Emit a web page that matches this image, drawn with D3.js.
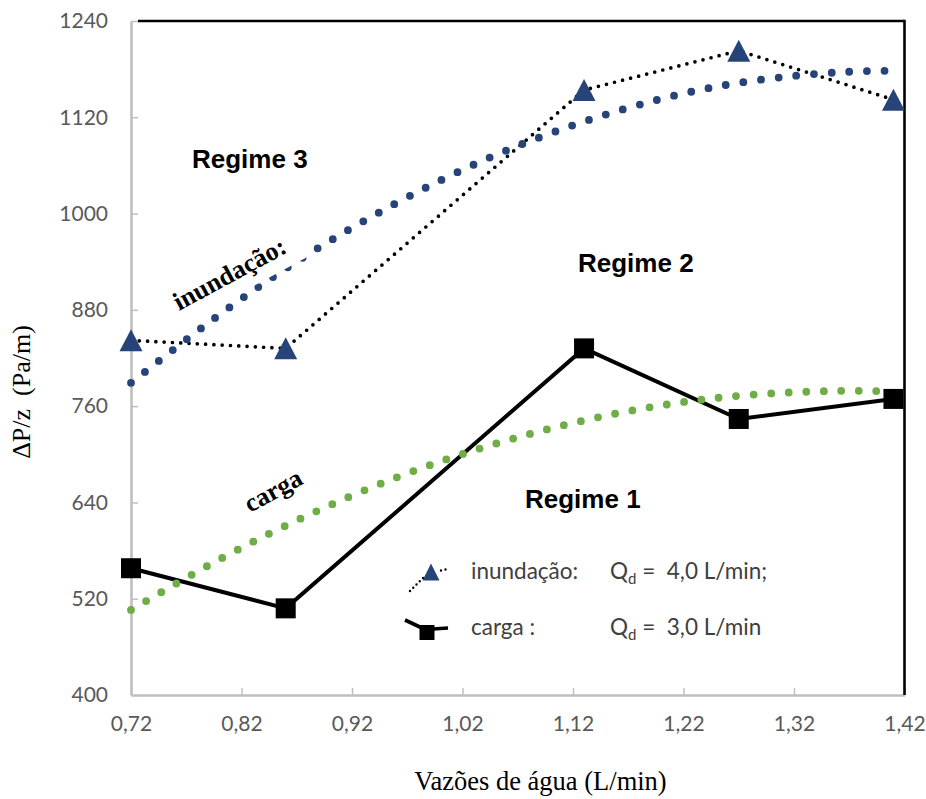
<!DOCTYPE html>
<html>
<head>
<meta charset="utf-8">
<script src="https://cdn.jsdelivr.net/npm/d3@7"></script>
<style>
  body { margin: 0; background: #fff; }
  text { white-space: pre; }
</style>
</head>
<body>
<svg id="chart" width="926" height="799"></svg>
<script>
// Measured pressure drop per unit height vs. water flow rate
const flowRates   = [0.72, 0.86, 1.13, 1.27, 1.41];
const floodingDP  = [842, 832, 1154, 1203, 1142];   // inundação, Qd = 4,0 L/min
const loadingDP   = [558, 508, 832, 744, 769];      // carga, Qd = 3,0 L/min

// Trend curves sampled along the flow axis
const trendFlow     = [0.72, 0.80, 0.88, 0.96, 1.04, 1.12, 1.20, 1.28, 1.36, 1.41];
const floodingTrend = [789, 874, 949, 1013, 1067, 1110, 1143, 1165, 1176, 1178];
const loadingTrend  = [506, 569, 624, 671, 709, 739, 761, 774, 779, 778];

const xTicks = [0.72, 0.82, 0.92, 1.02, 1.12, 1.22, 1.32, 1.42];
const yTicks = [400, 520, 640, 760, 880, 1000, 1120, 1240];

const blue = "#264478", green = "#70ad47";
const svg = d3.select("#chart");

const x = d3.scaleLinear().domain([0.72, 1.42]).range([131, 904.5]);
const y = d3.scaleLinear().domain([400, 1240]).range([695, 21]);

// Axes (grey, inward ticks)
const tickFont = "Lato, 'Open Sans', sans-serif";
const yAxis = svg.append("g").attr("transform", "translate(131,0)")
  .call(d3.axisLeft(y).tickValues(yTicks).tickSizeInner(-7).tickSizeOuter(0)
        .tickPadding(23).tickFormat(d3.format("d")));
const xAxis = svg.append("g").attr("transform", "translate(0,695)")
  .call(d3.axisBottom(x).tickValues(xTicks).tickSizeInner(-7).tickSizeOuter(0)
        .tickPadding(21).tickFormat(d => d.toFixed(2).replace(".", ",")));
[yAxis, xAxis].forEach(g => {
  g.select(".domain").attr("stroke", "#bfbfbf").attr("stroke-width", 2.6);
  g.selectAll(".tick line").attr("stroke", "#bfbfbf").attr("stroke-width", 1.5);
  g.selectAll(".tick text").attr("fill", "#595959")
    .style("font-family", tickFont).style("font-size", "21px");
});

// Black frame on top and right
svg.append("line").attr("x1", 138).attr("x2", x(1.42)).attr("y1", y(1240)).attr("y2", y(1240))
  .attr("stroke", "#000").attr("stroke-width", 2.5);
svg.append("line").attr("x1", x(1.42)).attr("x2", x(1.42)).attr("y1", y(1240) - 1.2).attr("y2", y(400))
  .attr("stroke", "#000").attr("stroke-width", 2.6);

// Series lines
const line = d3.line().x(d => x(d[0])).y(d => y(d[1]));
const flooding = flowRates.map((f, i) => [f, floodingDP[i]]);
const loading  = flowRates.map((f, i) => [f, loadingDP[i]]);

svg.append("path").attr("d", line(flooding)).attr("fill", "none")
  .attr("stroke", "#000").attr("stroke-width", 3.7)
  .attr("stroke-linecap", "round").attr("stroke-dasharray", "0 8.3");
svg.append("path").attr("d", line(loading)).attr("fill", "none")
  .attr("stroke", "#000").attr("stroke-width", 4);

// Markers
svg.selectAll(".tri").data(flooding).join("path").attr("class", "tri")
  .attr("transform", d => `translate(${x(d[0])},${y(d[1])})`)
  .attr("d", "M0,-11L11.5,11L-11.5,11Z").attr("fill", blue);
svg.selectAll(".sq").data(loading).join("rect").attr("class", "sq")
  .attr("x", d => x(d[0]) - 10).attr("y", d => y(d[1]) - 10)
  .attr("width", 20).attr("height", 20).attr("fill", "#000");

// Trend curves (round dots)
const trend = d3.line().curve(d3.curveNatural).x(d => x(d[0])).y(d => y(d[1]));
svg.append("path").attr("d", trend(trendFlow.map((f, i) => [f, floodingTrend[i]])))
  .attr("fill", "none").attr("stroke", blue).attr("stroke-width", 7.8)
  .attr("stroke-linecap", "round").attr("stroke-dasharray", "0 17.7");
svg.append("path").attr("d", trend(trendFlow.map((f, i) => [f, loadingTrend[i]])))
  .attr("fill", "none").attr("stroke", green).attr("stroke-width", 7.8)
  .attr("stroke-linecap", "round").attr("stroke-dasharray", "0 17.5");

// Curve labels
const serif = "'Liberation Serif', 'Times New Roman', serif";
const inLab = svg.append("g").attr("transform", "translate(179,311) rotate(-28.4)");
inLab.append("rect").attr("x", -4).attr("y", -24).attr("width", 150).attr("height", 37.5).attr("fill", "#fff");
inLab.append("text").text("inundação:").attr("font-family", serif).attr("font-weight", "bold")
  .attr("font-size", 26).attr("fill", "#000");
svg.append("g").attr("transform", "translate(250,513) rotate(-28.6)")
  .append("text").text("carga").attr("font-family", serif).attr("font-weight", "bold")
  .attr("font-size", 26).attr("fill", "#000");

// Regime labels
const sans = "'Liberation Sans', Arial, sans-serif";
[["Regime 3", 192, 168], ["Regime 2", 578, 272], ["Regime 1", 525, 508]].forEach(([t, tx, ty]) =>
  svg.append("text").text(t).attr("x", tx).attr("y", ty).attr("font-family", sans)
    .attr("font-weight", "bold").attr("font-size", 26).attr("fill", "#000"));

// Axis titles
svg.append("text").text("Vazões de água (L/min)").attr("x", 540.5).attr("y", 790)
  .attr("text-anchor", "middle").attr("font-family", serif).attr("font-size", 26.5).attr("fill", "#000");
svg.append("text").text("ΔP/z  (Pa/m)").attr("transform", "translate(30,392) rotate(-90)")
  .attr("text-anchor", "middle").attr("font-family", serif).attr("font-size", 26).attr("fill", "#000");

// Legend
const lg = svg.append("g");
lg.append("path").attr("d", "M410,591L424,577M441,570.5L448,569").attr("fill", "none")
  .attr("stroke", "#000").attr("stroke-width", 2.4).attr("stroke-linecap", "round")
  .attr("stroke-dasharray", "0 4.6");
lg.append("path").attr("d", "M0,-8.5L8.5,8.5L-8.5,8.5Z").attr("transform", "translate(431,572)").attr("fill", blue);
lg.append("path").attr("d", "M405,620L422,628M433,629L448,628").attr("fill", "none")
  .attr("stroke", "#000").attr("stroke-width", 3.6);
lg.append("rect").attr("x", 419.5).attr("y", 625).attr("width", 15).attr("height", 15).attr("fill", "#000");

const legFont = "Lato, 'Open Sans', sans-serif";
[["inundação:", "4,0 L/min;", 579], ["carga :", "3,0 L/min", 635]].forEach(([name, q, by]) => {
  lg.append("text").text(name).attr("x", 471).attr("y", by)
    .attr("font-family", legFont).attr("font-size", 22.5).attr("fill", "#404040");
  const t = lg.append("text").attr("x", 610).attr("y", by)
    .attr("font-family", legFont).attr("font-size", 22.5).attr("fill", "#404040");
  t.append("tspan").text("Q");
  t.append("tspan").text("d").attr("font-size", 15).attr("dy", 5);
  t.append("tspan").text(" =  " + q).attr("dy", -5);
});
</script>
</body>
</html>
